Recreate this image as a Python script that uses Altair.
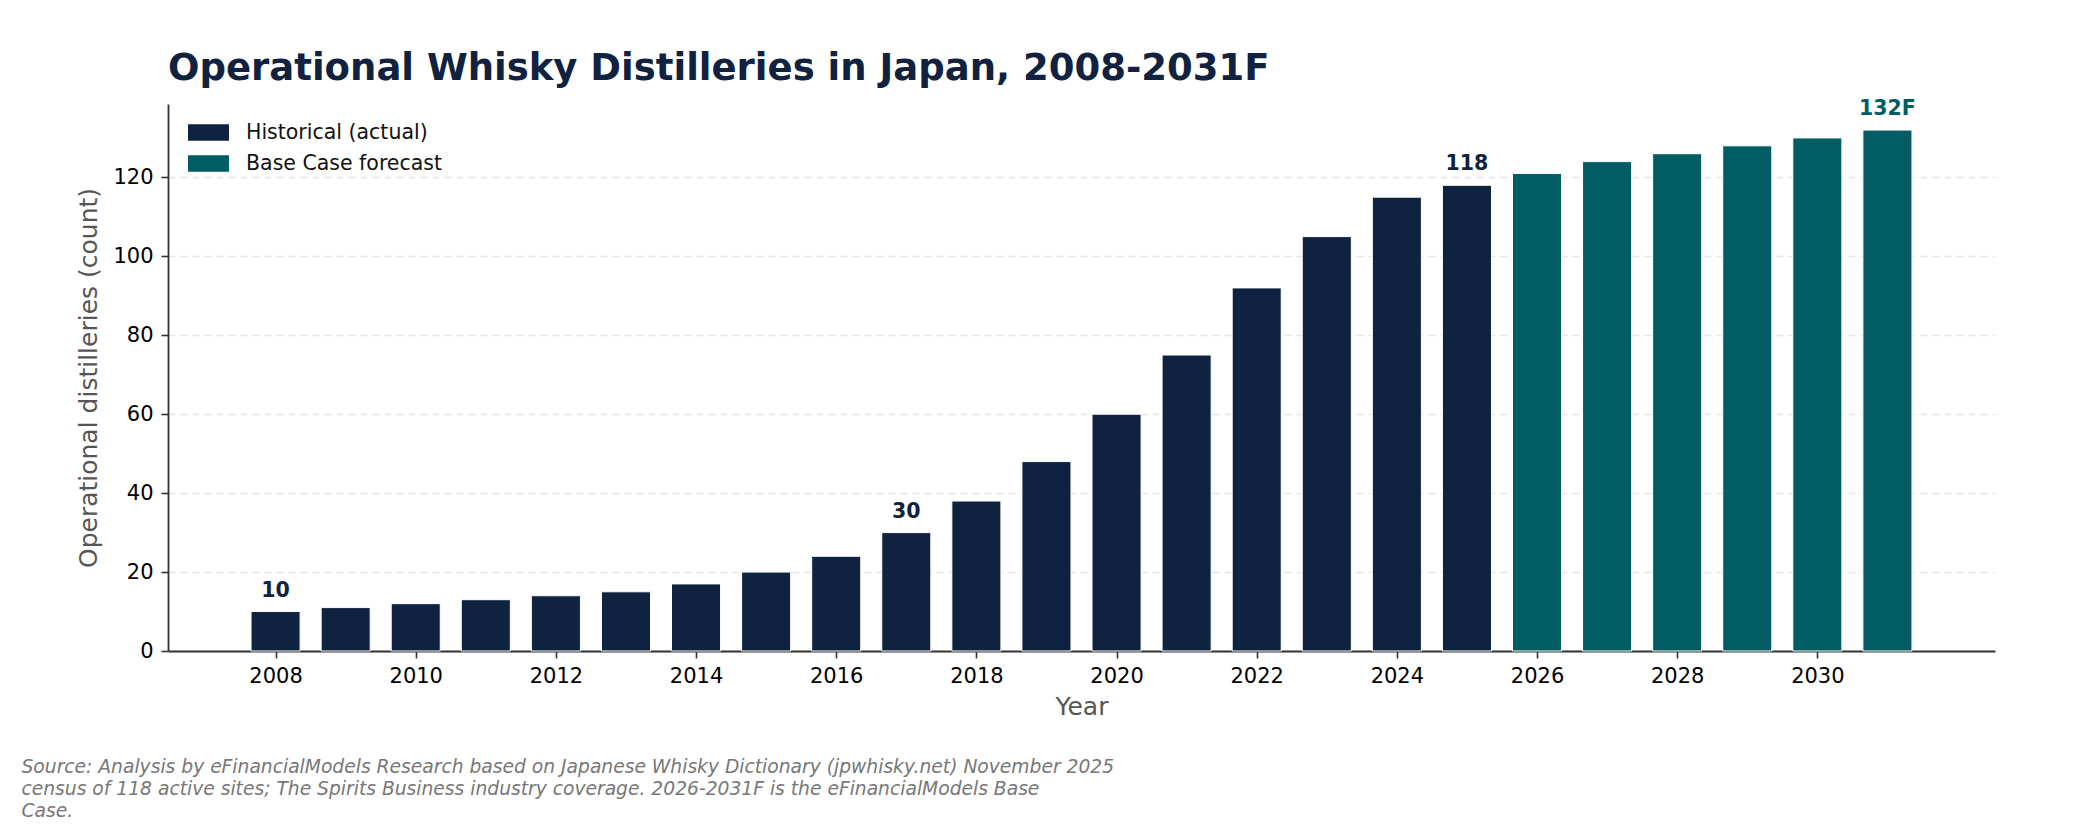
import altair as alt
import pandas as pd

years = list(range(2008, 2032))
counts = [10, 11, 12, 13, 14, 15, 17, 20, 24, 30, 38, 48, 60, 75, 92, 105,
          115, 118, 121, 124, 126, 128, 130, 132]
series = ["Historical (actual)"] * 18 + ["Base Case forecast"] * 6
series_names = ["Historical (actual)", "Base Case forecast"]
label_years = [2008, 2017, 2025, 2031]
label_texts = ["10", "30", "118", "132F"]
x_ticks = list(range(2008, 2031, 2))
y_ticks = [0, 20, 40, 60, 80, 100, 120]
source_lines = [
    "Source: Analysis by eFinancialModels Research based on Japanese Whisky Dictionary (jpwhisky.net) November 2025",
    "census of 118 active sites; The Spirits Business industry coverage. 2026-2031F is the eFinancialModels Base",
    "Case.",
]

NAVY = "#0F2340"
TEAL = "#015C63"
FONT = "DejaVu Sans"

df = pd.DataFrame({"year": years, "count": counts, "series": series})
lab = df[df["year"].isin(label_years)].copy()
lab["label"] = label_texts

W, H = 1827, 547
PAD_L, PAD_T = 160, 96

xs = alt.Scale(domain=[2006.465, 2032.535], nice=False, zero=False)
ys = alt.Scale(domain=[0, 138.6], nice=False, zero=True)
cs = alt.Scale(domain=series_names, range=[NAVY, TEAL])

x_axis = alt.Axis(
    values=x_ticks, format="d", title="Year", grid=False,
    labelFontSize=21, labelColor="#000000", labelPadding=7, labelFont=FONT,
    tickSize=7, tickWidth=1.6, tickColor="#333333",
    domainColor="#333333", domainWidth=1.8,
    titleFontSize=25, titleColor="#555555", titleFontWeight="normal",
    titleFont=FONT, titlePadding=8,
)
y_axis = alt.Axis(
    values=y_ticks, title="Operational distilleries (count)", grid=True,
    gridDash=[7, 5], gridColor="#e6e6e6", gridWidth=1.3,
    labelFontSize=21, labelColor="#000000", labelPadding=8, labelFont=FONT,
    tickSize=7, tickWidth=1.6, tickColor="#333333",
    domainColor="#333333", domainWidth=1.8,
    titleFontSize=25, titleColor="#555555", titleFontWeight="normal",
    titleFont=FONT, titlePadding=11,
)

legend = alt.Legend(
    title=None, orient="none", legendX=30, legendY=18, padding=0,
    symbolType="M-2,-0.8H2V0.8H-2Z", symbolSize=420, symbolStrokeWidth=0,
    symbolOpacity=1, labelFontSize=20.5, labelColor="#111111", labelFont=FONT,
    labelOffset=27, rowPadding=10, labelLimit=500,
)

bars = alt.Chart(df).transform_calculate(
    x0="datum.year - 0.35", x1="datum.year + 0.35"
).mark_bar(stroke="white", strokeWidth=1).encode(
    x=alt.X("x0:Q", scale=xs, axis=x_axis),
    x2="x1:Q",
    y=alt.Y("count:Q", scale=ys, axis=y_axis),
    y2=alt.datum(0),
    color=alt.Color("series:N", scale=cs, legend=legend),
)

labels = alt.Chart(lab).mark_text(
    dy=-15, baseline="alphabetic", align="center", fontWeight="bold",
    fontSize=20.5, font=FONT,
).encode(
    x=alt.X("year:Q", scale=xs),
    y=alt.Y("count:Q", scale=ys),
    text="label:N",
    color=alt.Color("series:N", scale=cs, legend=None),
)

source = alt.Chart(pd.DataFrame({"k": [0]})).mark_text(
    align="left", baseline="alphabetic", fontStyle="italic", fontSize=18.7,
    font=FONT, color="#777777", lineHeight=21.8,
).encode(
    x=alt.value(21.5 - 8 - PAD_L),
    y=alt.value(773 - 8 - PAD_T),
    text=alt.value(source_lines),
)

chart = alt.layer(bars, labels, source).properties(
    width=W, height=H,
    background="white",
    title=alt.TitleParams(
        "Operational Whisky Distilleries in Japan, 2008-2031F",
        anchor="start", frame="group", baseline="alphabetic",
        fontSize=37, fontWeight="bold", color="#10223F", font=FONT, offset=-18,
    ),
    autosize=alt.AutoSizeParams(type="none"),
    padding={"left": PAD_L, "top": PAD_T, "right": 2100 - 16 - PAD_L - W,
             "bottom": 825 - 8 - PAD_T - H},
).configure_view(strokeWidth=0, stroke="transparent")

chart.save("out.html", embed_options={"renderer": "svg", "actions": False})
